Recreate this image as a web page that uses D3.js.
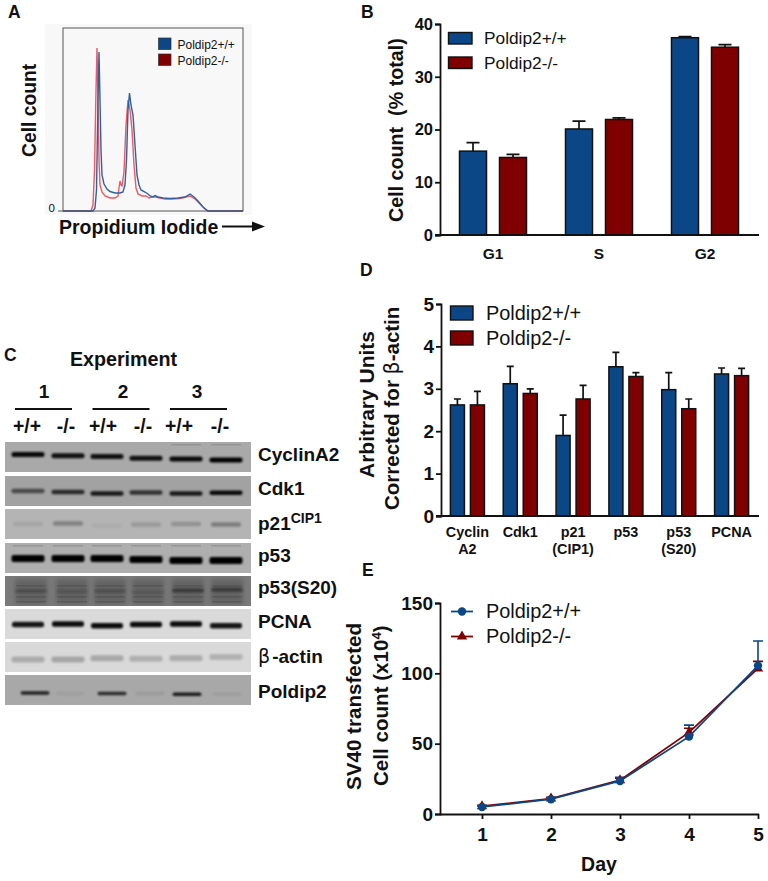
<!DOCTYPE html>
<html><head><meta charset="utf-8">
<script src="https://cdn.jsdelivr.net/npm/d3@7/dist/d3.min.js"></script>
<style>
html,body{margin:0;padding:0;background:#fff}
svg{display:block}
text{font-family:"Liberation Sans",Arial,sans-serif;fill:#111}
.b{font-weight:bold}
</style></head><body>
<script>
// ---------- data ----------
const seriesNames = ["Poldip2+/+", "Poldip2-/-"];
// Panel A histogram
const histChannelWT = [0,30,32,33.5,35,36,37,38,39,41,44,47,52,57,60,62,63.5,65,66.5,68,70,72,74,76,78,82,85,87,90,92,95,100,107,115,122,127,131,135,140,145,180];
const histCountWT   = [0,0,3,21,111,159,111,61,36,27,22,19.5,18,18,19,26,51,101,118,106,96,66,36,26,21,19,17,15,14,15.5,14,13,12.5,13,14,17,14,10,4,0,0];
const histChannelKO = [0,28,30,31.5,33,34,35,36,37,39,42,47,52,55,56,57,58,59,61,63,65,67,69,71,73,75,79,83,86,89,93,97,102,109,117,123,127,132,137,143,145,180];
const histCountKO   = [0,0,6,41,121,163,111,51,26,19,15,13,13,15,23,30,26,25,39,86,111,101,81,46,23,17,15,15,13,14,14,13,12,12,12.5,14,15,12,7,1,0,0];
// Panel B
const phases = ["G1","S","G2"];
const phaseWT = [15.9,20.1,37.4];
const phaseWTErr = [1.6,1.5,0.2];
const phaseKO = [14.7,21.9,35.6];
const phaseKOErr = [0.6,0.3,0.5];
const phaseTicks = [0,10,20,30,40];
// Panel C
const blotLabels = ["CyclinA2","Cdk1","p21","p53","p53(S20)","PCNA","β-actin","Poldip2"];
const experiments = ["1","2","3"];
const genotypes = ["+/+","-/-"];
const blotDarkness = [
 [.95,.9,.9,.9,.95,1],
 [.55,.75,.85,.7,.85,.95],
 [.08,.28,.04,.14,.18,.3],
 [1,1,1,1,1,1],
 [.22,.16,.2,.12,.42,.42],
 [.9,.95,.95,.95,.95,.9],
 [.4,.44,.42,.36,.38,.34],
 [.8,.05,.75,.08,.85,.06]
];
const bandMigration = [
 [.42,.46,.48,.54,.57,.6],
 [.5,.53,.58,.55,.58,.56],
 [.5,.48,.55,.52,.5,.52],
 [.52,.52,.52,.55,.58,.58],
 [.5,.52,.5,.54,.48,.46],
 [.52,.5,.56,.52,.5,.56],
 [.58,.58,.54,.56,.54,.5],
 [.6,.62,.62,.62,.64,.64]
];
// Panel D
const proteinCats = [["Cyclin","A2"],["Cdk1"],["p21","(CIP1)"],["p53"],["p53","(S20)"],["PCNA"]];
const proteinWT = [2.62,3.12,1.9,3.52,2.98,3.35];
const proteinWTErr = [.14,.41,.48,.34,.4,.14];
const proteinKO = [2.62,2.89,2.76,3.29,2.53,3.31];
const proteinKOErr = [.32,.11,.32,.09,.23,.17];
const proteinTicks = [0,1,2,3,4,5];
// Panel E
const days = [1,2,3,4,5];
const growthWT = [5,10.5,23.5,55,105.5];
const growthWTErr = [.8,1,2.6,8.2,17.5];
const growthKO = [5.5,11,24,58,103.5];
const growthKOErr = [.6,.8,1.5,3,5];
const growthTicks = [0,50,100,150];

// ---------- style ----------
const BLUE="#0b4686", RED="#7f0000", W=768, H=881;
const svg=d3.select("body").append("svg").attr("width",W).attr("height",H);
const defs=svg.append("defs");
[["soft",.45],["band",.9],["smear",2.5]].forEach(([id,s])=>{
  defs.append("filter").attr("id",id).attr("x","-20%").attr("y","-60%").attr("width","140%").attr("height","220%")
    .append("feGaussianBlur").attr("stdDeviation",s);
});
function txt(s,x,y,size,o={}){
  const t=svg.append("text").attr("x",x).attr("y",y).attr("font-size",size).text(s);
  if(o.b!==false) t.attr("class","b");
  if(o.anchor) t.attr("text-anchor",o.anchor);
  if(o.rot) t.attr("transform",`rotate(-90 ${x} ${y})`);
  return t;
}
[["A",8,18],["B",361,18],["C",4,361],["D",360,276],["E",362,576]].forEach(d=>txt(d[0],d[1],d[2],17.5));

// ---------- Panel A ----------
svg.append("rect").attr("x",45).attr("y",24).attr("width",207).attr("height",191).attr("fill","#f8f8f8");
const ax=d3.scaleLinear().domain([0,180]).range([63,243]);
const ay=d3.scaleLinear().domain([0,183]).range([211,28]);
const line=d3.line().x(d=>ax(d[0])).y(d=>ay(d[1]));
const gA=svg.append("g");
gA.append("path").attr("d",line(d3.zip(histChannelKO,histCountKO))).attr("fill","none").attr("stroke","#ee5a62").attr("stroke-width",1.4).attr("filter","url(#soft)");
gA.append("path").attr("d",line(d3.zip(histChannelWT,histCountWT))).attr("fill","none").attr("stroke","#33609f").attr("stroke-width",1.4).attr("filter","url(#soft)");
svg.append("rect").attr("x",63).attr("y",28).attr("width",180).attr("height",183).attr("fill","none").attr("stroke","#555").attr("stroke-width",1);
svg.append("line").attr("x1",58).attr("x2",63).attr("y1",211).attr("y2",211).attr("stroke","#555");
txt("0",48.5,212,11.5,{b:false});
seriesNames.forEach((n,i)=>{
  svg.append("rect").attr("x",158.5).attr("y",38+i*16).attr("width",12.5).attr("height",11.5).attr("fill",i?RED:BLUE).attr("stroke","#333").attr("stroke-width",.7);
  txt(n,177.5,49+i*16,12,{b:false});
});
txt("Cell count",36,157,19.3,{rot:true});
txt("Propidium Iodide",59,234,19.5);
svg.append("line").attr("x1",222).attr("x2",258).attr("y1",226.5).attr("y2",226.5).attr("stroke","#111").attr("stroke-width",2);
svg.append("path").attr("d","M252 221.5L265 226.5L252 231.5Z").attr("fill","#111");

// ---------- shared bar panel ----------
function barPanel(cfg){
  const x0=d3.scaleBand().domain(d3.range(cfg.n)).range(cfg.xr);
  const x1=d3.scaleBand().domain(seriesNames).range([0,x0.bandwidth()]).paddingInner(cfg.pi).paddingOuter(cfg.po);
  const y=d3.scaleLinear().domain(cfg.yd).range(cfg.yr);
  [[cfg.wt,cfg.wtErr,BLUE,seriesNames[0]],[cfg.ko,cfg.koErr,RED,seriesNames[1]]].forEach(([vals,err,col,nm])=>{
    vals.forEach((v,i)=>{
      const x=x0(i)+x1(nm), w=x1.bandwidth(), c=x+w/2;
      svg.append("path").attr("d",`M${c} ${y(v)}V${y(v+err[i])}M${c-cfg.cap} ${y(v+err[i])}H${c+cfg.cap}`).attr("stroke","#111").attr("stroke-width",1.7).attr("fill","none");
      svg.append("rect").attr("x",x).attr("y",y(v)).attr("width",w).attr("height",y(0)-y(v)).attr("fill",col).attr("stroke","#111").attr("stroke-width",1.5);
    });
  });
  const g=svg.append("g").attr("transform",`translate(${cfg.xr[0]},0)`);
  g.call(d3.axisLeft(y).tickValues(cfg.ticks).tickSize(5).tickPadding(2).tickFormat(d3.format("d")));
  g.selectAll("path,line").attr("stroke","#111").attr("stroke-width",1.8);
  g.selectAll("text").attr("font-size",cfg.tickSize).attr("class","b").attr("font-family",null).attr("fill","#111");
  svg.append("line").attr("x1",cfg.xr[0]-5).attr("x2",cfg.xr[1]+1).attr("y1",y(0)).attr("y2",y(0)).attr("stroke","#111").attr("stroke-width",1.8);
  return x0;
}

// ---------- Panel B ----------
const xb=barPanel({n:3,xr:[440,758],pi:.325,po:.4875,yd:[0,40],yr:[235,24],wt:phaseWT,wtErr:phaseWTErr,ko:phaseKO,koErr:phaseKOErr,ticks:phaseTicks,cap:6.5,tickSize:16.5});
phases.forEach((p,i)=>txt(p,xb(i)+xb.bandwidth()/2,259,15.5,{anchor:"middle"}));
seriesNames.forEach((n,i)=>{
  svg.append("rect").attr("x",448.5).attr("y",32.5+i*24.5).attr("width",23.5).attr("height",11.5).attr("fill",i?RED:BLUE).attr("stroke","#111").attr("stroke-width",1.4);
  txt(n,484,44+i*24.5,17.3,{b:false});
});
txt("Cell count\u00a0\u00a0(% total)",403,222,19.7,{rot:true});

// ---------- Panel C ----------
txt("Experiment",123.5,366,19.7,{anchor:"middle"});
const expCentre=[44,123,197];
experiments.forEach((e,i)=>{
  txt(e,expCentre[i],398,19,{anchor:"middle"});
  const x=15+i*77.5;
  svg.append("line").attr("x1",x).attr("x2",x+57).attr("y1",409).attr("y2",409).attr("stroke","#111").attr("stroke-width",2);
  genotypes.forEach((gn,j)=>txt(gn,[27,66,103,143,179,220][i*2+j],433,19.4,{anchor:"middle"}));
});
const rowTop=[442,476,509,543,576,609,642,675], rowH=30;
const rowBg=["#a9a9a9","#a2a2a2","#b4b4b4","#aeaeae","#7a7a7a","#dadada","#d9d9d9","#a8a8a8"];
const bandH=[5,4.5,4.5,7,4,5.5,6,3.5], bandW=[33,33,30,33,32,32,33,29];
const bandFilter=["band","band","band","band","band","band","band","band"];
const laneX=[28,68,107,146,186,226];
const laneShift=[[0,0,0,0,0,0],[0,0,0,0,0,0],[0,0,0,0,0,0],[0,0,0,0,0,0],[3,4,3,2,2,1],[0,0,0,0,0,0],[0,0,0,0,0,0],[7,2,5,4,1,1]];
blotLabels.forEach((lab,r)=>{
  const g=svg.append("g");
  g.append("rect").attr("x",5).attr("y",rowTop[r]).attr("width",246).attr("height",rowH).attr("fill",rowBg[r]);
  if(lab==="p53(S20)"){
    blotDarkness[r].forEach((d,l)=>{
      const xc=laneX[l]+laneShift[r][l], yc=rowTop[r]+rowH*.5;
      g.append("rect").attr("x",xc-16).attr("y",yc-12).attr("width",32).attr("height",25).attr("fill","#5c5c5c").attr("filter","url(#smear)").attr("opacity",.75);
      [-6,5,10].forEach(o=>g.append("rect").attr("x",xc-15).attr("y",yc+o).attr("width",30).attr("height",1.6).attr("fill","#3f3f3f").attr("opacity",.35).attr("filter","url(#soft)"));
    });
  }
  if(lab==="p53"||lab==="CyclinA2"){
    d3.range(6).forEach(l=>{
      if(lab==="p53"||l>3) g.append("rect").attr("x",laneX[l]-15).attr("y",rowTop[r]+2).attr("width",30).attr("height",1.5).attr("fill","#8b8b8b").attr("opacity",.7).attr("filter","url(#soft)");
    });
  }
  blotDarkness[r].forEach((d,l)=>{
    const yc=rowTop[r]+rowH*bandMigration[r][l];
    const base=lab==="β-actin"?"#666":"#050505";
    g.append("rect").attr("x",laneX[l]+laneShift[r][l]-bandW[r]/2).attr("y",yc-bandH[r]/2).attr("width",bandW[r]).attr("height",bandH[r]).attr("rx",2)
      .attr("fill",base).attr("opacity",d).attr("filter",`url(#${bandFilter[r]})`);
  });
});
rowTop.slice(1).forEach((t,i)=>{
  const prevEnd=rowTop[i]+rowH;
  svg.append("rect").attr("x",0).attr("y",prevEnd).attr("width",256).attr("height",t-prevEnd).attr("fill","#fff");
});
const labelBase=[461,495,530,562,594,628,663,698];
blotLabels.forEach((lab,i)=>{
  const t=txt(lab==="β-actin"?"":lab,258,labelBase[i],19);
  if(lab==="p21") t.append("tspan").attr("dy",-7).attr("font-size",14).text("CIP1");
  if(lab==="β-actin"){ t.append("tspan").attr("font-family","DejaVu Sans").attr("font-weight","normal").text("β"); t.append("tspan").attr("dx",2).text("-actin"); }
});

// ---------- Panel D ----------
const xd=barPanel({n:6,xr:[441,758],pi:.3,po:.47,yd:[0,5],yr:[516,304],wt:proteinWT,wtErr:proteinWTErr,ko:proteinKO,koErr:proteinKOErr,ticks:proteinTicks,cap:3.5,tickSize:19});
proteinCats.forEach((c,i)=>c.forEach((s,j)=>txt(s,xd(i)+xd.bandwidth()/2,537+j*17,14.4,{anchor:"middle"})));
seriesNames.forEach((n,i)=>{
  svg.append("rect").attr("x",450.5).attr("y",306+i*25).attr("width",22.5).attr("height",14).attr("fill",i?RED:BLUE).attr("stroke","#111").attr("stroke-width",1.4);
  txt(n,486,320+i*25,19.9,{b:false});
});
txt("Arbitrary Units",374,478,21,{rot:true});
const dl=txt("Corrected for ",399,510,20.5,{rot:true});
dl.append("tspan").attr("font-family","DejaVu Sans").attr("font-weight","normal").text("β");
dl.append("tspan").text("-actin");

// ---------- Panel E ----------
const ex=d3.scaleLinear().domain([1,5]).range([482,758]);
const ey=d3.scaleLinear().domain([0,150]).range([814,603]);
const gy=svg.append("g").attr("transform","translate(440,0)").call(d3.axisLeft(ey).tickValues(growthTicks).tickSize(5).tickPadding(2));
const gx=svg.append("g").attr("transform","translate(0,814)").call(d3.axisBottom(ex).tickValues(days).tickSize(5).tickPadding(9).tickFormat(d3.format("d")));
[gy,gx].forEach(g=>{
  g.selectAll("path,line").attr("stroke","#111").attr("stroke-width",1.8);
  g.selectAll("text").attr("font-size",19).attr("class","b").attr("font-family",null).attr("fill","#111");
});
gx.select("path").attr("d","M440 0.5H759");
const l2=d3.line().x((d,i)=>ex(days[i])).y(d=>ey(d));
function errs(vals,err,col){
  vals.forEach((v,i)=>{
    const c=ex(days[i]);
    svg.append("path").attr("d",`M${c} ${ey(v)}V${ey(v+err[i])}M${c-5} ${ey(v+err[i])}H${c+5}`).attr("stroke",col).attr("stroke-width",1.6).attr("fill","none");
  });
}
errs(growthKO,growthKOErr,RED);
errs(growthWT,growthWTErr,BLUE);
const tri=d3.symbol().type(d3.symbolTriangle).size(46);
svg.append("path").attr("d",l2(growthKO)).attr("fill","none").attr("stroke",RED).attr("stroke-width",1.8);
growthKO.forEach((v,i)=>svg.append("path").attr("d",tri()).attr("transform",`translate(${ex(days[i])},${ey(v)})`).attr("fill",RED));
svg.append("path").attr("d",l2(growthWT)).attr("fill","none").attr("stroke",BLUE).attr("stroke-width",1.8);
growthWT.forEach((v,i)=>svg.append("circle").attr("cx",ex(days[i])).attr("cy",ey(v)).attr("r",4.2).attr("fill",BLUE));
seriesNames.forEach((n,i)=>{
  const yy=611.5+i*25, c=i?RED:BLUE;
  svg.append("line").attr("x1",451).attr("x2",473).attr("y1",yy).attr("y2",yy).attr("stroke",c).attr("stroke-width",1.8);
  if(i) svg.append("path").attr("d",tri()).attr("transform",`translate(462,${yy})`).attr("fill",c);
  else svg.append("circle").attr("cx",462).attr("cy",yy).attr("r",4.2).attr("fill",c);
  txt(n,486,618+i*25,19.9,{b:false});
});
txt("SV40 transfected",361,790,20.6,{rot:true});
const el=txt("Cell count (x10",388,786,20.6,{rot:true});
el.append("tspan").attr("dy",-7).attr("font-size",13).text("4");
el.append("tspan").attr("dy",7).text(")");
txt("Day",599,871,19.5,{anchor:"middle"});
</script>
</body></html>
